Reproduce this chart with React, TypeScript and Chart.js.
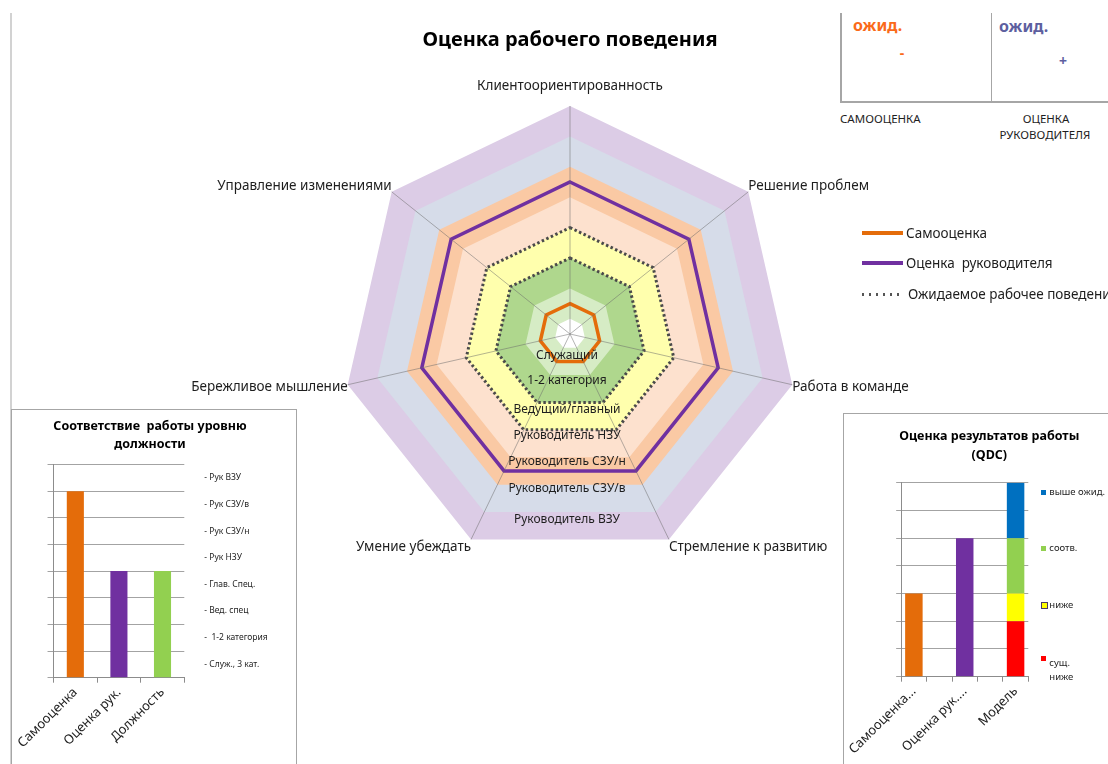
import React, { useEffect, useRef } from "react";
import { Chart, registerables } from "chart.js";

Chart.register(...registerables);

const FONT = '"Noto Sans", "DejaVu Sans", sans-serif';
const TEXT = "#1e1e1e";

// ---------- Radar: "Оценка рабочего поведения" ----------
const competencies = [
  "Клиентоориентированность",
  "Решение проблем",
  "Работа в команде",
  "Стремление к развитию",
  "Умение убеждать",
  "Бережливое мышление",
  "Управление изменениями",
];
const selfAssessment = [1, 1, 1, 1, 1, 1, 1];
const managerAssessment = [5, 5, 5, 5, 5, 5, 5];
const expectedUpper = [3.5, 3.5, 3.5, 3.5, 3.5, 3.5, 3.5];
const expectedLower = [2.5, 2.5, 2.5, 2.5, 2.5, 2.5, 2.5];

// level bands (outer boundary of each band on every axis)
const bandCore = [0.5, 0.5, 0.5, 0.5, 0.5, 0.5, 0.5];
const bandServant = [1.5, 1.5, 1.5, 1.5, 1.5, 1.5, 1.5];
const bandCategory = [2.5, 2.5, 2.5, 2.5, 2.5, 2.5, 2.5];
const bandLead = [3.5, 3.5, 3.5, 3.5, 3.5, 3.5, 3.5];
const bandHeadLow = [4.5, 4.5, 4.5, 4.5, 4.5, 4.5, 4.5];
const bandHeadMidLow = [5.5, 5.5, 5.5, 5.5, 5.5, 5.5, 5.5];
const bandHeadMidHigh = [6.5, 6.5, 6.5, 6.5, 6.5, 6.5, 6.5];
const bandHeadTop = [7.5, 7.5, 7.5, 7.5, 7.5, 7.5, 7.5];
const bands = [bandCore, bandServant, bandCategory, bandLead, bandHeadLow, bandHeadMidLow, bandHeadMidHigh, bandHeadTop];
const bandColors = ["#ffffff", "#d6ecc5", "#afd78d", "#ffffad", "#fde1ce", "#fac9a4", "#d6dce9", "#dccce6"];

const levelNames = [
  "Служащий",
  "1-2 категория",
  "Ведущий/главный",
  "Руководитель НЗУ",
  "Руководитель СЗУ/н",
  "Руководитель СЗУ/в",
  "Руководитель ВЗУ",
];
const levelNameValues = [0.7, 1.53, 2.49, 3.34, 4.19, 5.1, 6.11];

// ---------- Bar: "Соответствие работы уровню должности" ----------
const positionCategories = ["Самооценка", "Оценка рук.", "Должность"];
const positionValues = [7, 4, 4];
const positionColors = ["#e46c0a", "#7030a0", "#92d050"];
const positionLevelLabels = [
  "- Служ., 3 кат.",
  "-  1-2 категория",
  "- Вед. спец",
  "- Глав. Спец.",
  "- Рук НЗУ",
  "- Рук СЗУ/н",
  "- Рук СЗУ/в",
  "- Рук ВЗУ",
];
const positionLevelTicks = [0.5, 1.5, 2.5, 3.5, 4.5, 5.5, 6.5, 7.5];

// ---------- Bar: "Оценка результатов работы (QDC)" ----------
const qdcCategories = ["Самооценка...", "", "Оценка рук....", "", "Модель"];
const qdcSelf = [3, null, null, null, null];
const qdcManager = [null, null, 5, null, null];
const modelWellBelow = [null, null, null, null, 2];
const modelBelow = [null, null, null, null, 1];
const modelMeets = [null, null, null, null, 2];
const modelAbove = [null, null, null, null, 2];

const radarTextPlugin = {
  id: "radarText",
  afterDraw(chart: any) {
    const scale = chart.scales.r;
    const ctx = chart.ctx;
    const outer = scale.getDistanceFromCenterForValue(scale.max);
    ctx.save();
    ctx.fillStyle = TEXT;
    ctx.textBaseline = "middle";
    ctx.font = `13.5px ${FONT}`;
    (chart.data.labels as string[]).forEach((lab, i) => {
      const p = scale.getPointPosition(i, outer);
      const dx = p.x - scale.xCenter;
      const up = (scale.yCenter - p.y) / outer;
      if (Math.abs(dx) < 2) {
        ctx.textAlign = "center";
        ctx.fillText(lab, p.x, p.y - 20);
      } else {
        ctx.textAlign = dx > 0 ? "left" : "right";
        ctx.fillText(lab, p.x, p.y - 9 * up);
      }
    });
    ctx.font = `12px ${FONT}`;
    ctx.textAlign = "center";
    levelNames.forEach((n, i) => {
      ctx.fillText(n, scale.xCenter - 3, scale.yCenter + scale.getDistanceFromCenterForValue(levelNameValues[i]));
    });
    ctx.restore();
  },
};

function RadarChart() {
  const ref = useRef<HTMLCanvasElement>(null);
  useEffect(() => {
    const lineDs = (label: string, data: number[], color: string, width: number, dash: number[] = []) => ({
      label,
      data,
      borderColor: color,
      backgroundColor: "rgba(0,0,0,0)",
      borderWidth: width,
      borderDash: dash,
      fill: false,
      pointRadius: 0,
    });
    const chart = new Chart(ref.current!, {
      type: "radar",
      data: {
        labels: competencies,
        datasets: [
          lineDs("Самооценка", selfAssessment, "#e46c0a", 3.5),
          lineDs("Оценка  руководителя", managerAssessment, "#7030a0", 3.5),
          lineDs("Ожидаемое рабочее поведение", expectedUpper, "#4a4a4a", 3, [2.5, 2.5]),
          lineDs("Ожидаемое рабочее поведение (нижн.)", expectedLower, "#4a4a4a", 3, [2.5, 2.5]),
          ...bands.map((b, i) => ({
            label: levelNames[i] || "band",
            data: b,
            backgroundColor: bandColors[i],
            borderColor: "rgba(0,0,0,0)",
            borderWidth: 1,
            fill: "origin",
            pointRadius: 0,
          })),
        ] as any,
      },
      options: {
        animation: false,
        responsive: false,
        layout: { padding: { left: 152, right: 152, top: 16, bottom: 18 } },
        plugins: {
          legend: { display: false },
          tooltip: { enabled: false },
          title: {
            display: true,
            text: "Оценка рабочего поведения",
            color: "#000",
            font: { family: FONT, size: 20, weight: "bold", lineHeight: 1.2 },
            padding: { top: 12, bottom: 54 },
          },
        },
        elements: { line: { tension: 0 } },
        scales: {
          r: {
            min: 0,
            max: 7.5,
            ticks: { display: false, z: 1, stepSize: 0.5 },
            grid: { display: false, z: 1 },
            angleLines: { display: true, color: "rgba(105,105,105,0.5)", lineWidth: 1 },
            pointLabels: { display: false },
          },
        },
      } as any,
      plugins: [radarTextPlugin],
    });
    return () => chart.destroy();
  }, []);
  return (
    <canvas
      ref={ref}
      width={760}
      height={580}
      style={{ position: "absolute", left: 190, top: 0, width: 760, height: 580 }}
    />
  );
}

function PositionChart() {
  const ref = useRef<HTMLCanvasElement>(null);
  useEffect(() => {
    const chart = new Chart(ref.current!, {
      type: "bar",
      data: {
        labels: positionCategories,
        datasets: [
          {
            label: "Уровень",
            data: positionValues,
            backgroundColor: positionColors,
            barPercentage: 0.49,
            categoryPercentage: 0.8,
          },
        ],
      },
      options: {
        animation: false,
        responsive: false,
        layout: { padding: { left: 0, right: 7, top: 0, bottom: 0 } },
        plugins: {
          legend: { display: false },
          tooltip: { enabled: false },
          title: {
            display: true,
            text: ["Соответствие  работы уровню", "должности"],
            color: "#000",
            font: { family: FONT, size: 12.5, weight: "bold", lineHeight: 1.46 },
            padding: { top: 7.3, bottom: 10.7 },
          },
        },
        scales: {
          x: {
            grid: { display: true, drawOnChartArea: false, drawTicks: true, tickLength: 5, color: "#8c8c8c", offset: true },
            border: { color: "#8c8c8c" },
            ticks: { font: { family: FONT, size: 13 }, color: TEXT, minRotation: 45, maxRotation: 45, padding: 2 },
            afterFit: (s: any) => {
              s.height = 86.3;
            },
          },
          y: {
            min: 0,
            max: 8,
            ticks: { display: false, stepSize: 1 },
            grid: { color: "#a3a3a3", tickLength: 6, drawTicks: true },
            border: { color: "#8c8c8c" },
            afterFit: (s: any) => {
              s.width = 37.3;
            },
          },
          levels: {
            type: "linear",
            position: "right",
            min: 0,
            max: 8,
            grid: { display: false, drawTicks: false },
            border: { display: false },
            afterBuildTicks: (s: any) => {
              s.ticks = positionLevelTicks.map((v) => ({ value: v }));
            },
            ticks: {
              autoSkip: false,
              padding: 20,
              color: TEXT,
              font: { family: FONT, size: 8.5 },
              callback: (_v: any, i: number) => positionLevelLabels[i],
            },
            afterFit: (s: any) => {
              s.width = 103.7;
            },
          },
        },
      } as any,
    });
    return () => chart.destroy();
  }, []);
  return (
    <canvas
      ref={ref}
      width={283}
      height={354}
      style={{ position: "absolute", left: 12, top: 410, width: 283, height: 354 }}
    />
  );
}

function QdcChart() {
  const ref = useRef<HTMLCanvasElement>(null);
  useEffect(() => {
    const ds = (label: string, data: (number | null)[], color: string) => ({
      label,
      data,
      backgroundColor: color,
      barPercentage: 0.86,
      categoryPercentage: 0.8,
    });
    const chart = new Chart(ref.current!, {
      type: "bar",
      data: {
        labels: qdcCategories,
        datasets: [
          ds("Самооценка", qdcSelf, "#e46c0a"),
          ds("Оценка рук.", qdcManager, "#7030a0"),
          ds("сущ. ниже", modelWellBelow, "#ff0000"),
          ds("ниже", modelBelow, "#ffff00"),
          ds("соотв.", modelMeets, "#92d050"),
          ds("выше ожид.", modelAbove, "#0070c0"),
        ] as any,
      },
      options: {
        animation: false,
        responsive: false,
        layout: { padding: { left: 26.6, right: 0, top: 0, bottom: 0 } },
        plugins: {
          legend: { display: false },
          tooltip: { enabled: false },
          title: {
            display: true,
            text: ["Оценка результатов работы", "(QDC)"],
            color: "#000",
            font: { family: FONT, size: 12.5, weight: "bold", lineHeight: 1.48 },
            padding: { top: 13.3, bottom: 18.4 },
          },
        },
        scales: {
          x: {
            stacked: true,
            grid: { display: true, drawOnChartArea: false, drawTicks: true, tickLength: 5, color: "#8c8c8c", offset: true },
            border: { color: "#8c8c8c" },
            ticks: { font: { family: FONT, size: 13 }, color: TEXT, minRotation: 45, maxRotation: 45, padding: 2, autoSkip: false },
            afterFit: (s: any) => {
              s.height = 87.3;
            },
          },
          y: {
            stacked: true,
            min: 0,
            max: 7,
            ticks: { display: false, stepSize: 1 },
            grid: { color: "#a3a3a3", tickLength: 5, drawTicks: true },
            border: { color: "#8c8c8c" },
            afterFit: (s: any) => {
              s.width = 27.1;
            },
          },
          pad: {
            type: "linear",
            position: "right",
            display: true,
            grid: { display: false, drawTicks: false },
            border: { display: false },
            ticks: { display: false },
            afterFit: (s: any) => {
              s.width = 79.7;
            },
          },
        },
      } as any,
    });
    return () => chart.destroy();
  }, []);
  return (
    <canvas
      ref={ref}
      width={264}
      height={350}
      style={{ position: "absolute", left: 844, top: 414, width: 264, height: 350 }}
    />
  );
}

const abs = (s: React.CSSProperties): React.CSSProperties => ({ position: "absolute", ...s });

function TextAt({ x, y, size, children, color = TEXT, bold = false, align = "left" }: any) {
  const style: React.CSSProperties = abs({
    top: y - 12,
    height: 24,
    lineHeight: "24px",
    fontSize: size,
    fontWeight: bold ? 700 : 400,
    color,
    whiteSpace: "pre",
  });
  if (align === "center") {
    style.left = x - 150;
    style.width = 300;
    style.textAlign = "center";
  } else {
    style.left = x;
  }
  return <div style={style}>{children}</div>;
}

export default function App() {
  const gray = "#a6a6a6";
  return (
    <div
      style={{
        position: "absolute",
        left: 0,
        top: 0,
        width: 1108,
        height: 764,
        overflow: "hidden",
        background: "#fff",
        fontFamily: FONT,
      }}
    >
      {/* outer frame line */}
      <div style={abs({ left: 10, top: 13, width: 2, height: 760, background: "#d2d2d2" })} />

      {/* top-right expectations box */}
      <div style={abs({ left: 840, top: 13, width: 1.5, height: 89, background: gray })} />
      <div style={abs({ left: 990.5, top: 13, width: 1.5, height: 89, background: gray })} />
      <div style={abs({ left: 840, top: 101, width: 270, height: 1.5, background: gray })} />
      <TextAt x={853} y={25} size={16} bold color="#fa6a1a">ожид.</TextAt>
      <TextAt x={902} y={53} size={14} bold color="#fa6a1a" align="center">-</TextAt>
      <TextAt x={999} y={26} size={16} bold color="#5d5f9f">ожид.</TextAt>
      <TextAt x={1063} y={61} size={14} bold color="#5d5f9f" align="center">+</TextAt>
      <TextAt x={840} y={119} size={11.5}>САМООЦЕНКА</TextAt>
      <TextAt x={1046} y={119} size={11.5} align="center">ОЦЕНКА</TextAt>
      <TextAt x={1045} y={135} size={11.5} align="center">РУКОВОДИТЕЛЯ</TextAt>

      {/* left and right chart boxes */}
      <div style={abs({ left: 11, top: 409, width: 284, height: 400, border: `1px solid ${gray}`, background: "#fff" })} />
      <div style={abs({ left: 843, top: 413, width: 300, height: 400, border: `1px solid ${gray}`, background: "#fff" })} />

      <RadarChart />
      <PositionChart />
      <QdcChart />

      {/* radar legend */}
      <div style={abs({ left: 862, top: 231, width: 41, height: 3.5, background: "#e46c0a" })} />
      <TextAt x={906} y={232.7} size={13.5}>Самооценка</TextAt>
      <div style={abs({ left: 862, top: 261, width: 41, height: 3.5, background: "#7030a0" })} />
      <TextAt x={906} y={262.7} size={13.5}>Оценка  руководителя</TextAt>
      <div
        style={abs({
          left: 862,
          top: 293,
          width: 38,
          height: 2.5,
          background: "repeating-linear-gradient(to right, #555 0px, #555 2.5px, transparent 2.5px, transparent 7px)",
        })}
      />
      <TextAt x={908} y={294.3} size={13.5}>Ожидаемое рабочее поведение</TextAt>

      {/* QDC legend */}
      <div style={abs({ left: 1040.5, top: 489.5, width: 5.5, height: 5.5, background: "#0070c0" })} />
      <TextAt x={1049.3} y={492.3} size={9.5}>выше ожид.</TextAt>
      <div style={abs({ left: 1040.5, top: 545.5, width: 5.5, height: 5.5, background: "#92d050" })} />
      <TextAt x={1049.3} y={548.3} size={9.5}>соотв.</TextAt>
      <div style={abs({ left: 1040.5, top: 602, width: 5, height: 5, background: "#ffff00", border: "1px solid #4a3a6a" })} />
      <TextAt x={1049.3} y={605} size={9.5}>ниже</TextAt>
      <div style={abs({ left: 1040.5, top: 655.5, width: 5.5, height: 5.5, background: "#ff0000" })} />
      <TextAt x={1049.3} y={663.3} size={9.5}>сущ.</TextAt>
      <TextAt x={1049.3} y={676.7} size={9.5}>ниже</TextAt>
    </div>
  );
}
